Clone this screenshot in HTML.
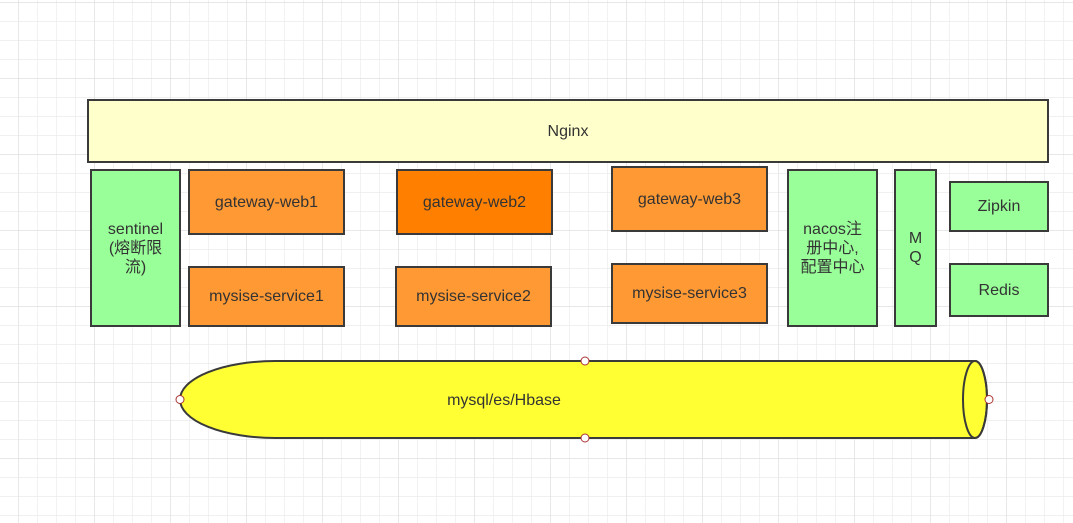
<!DOCTYPE html>
<html><head><meta charset="utf-8"><style>
body{margin:0;width:1073px;height:523px;overflow:hidden;background:#fff;font-family:"Liberation Sans","Noto Sans CJK SC",sans-serif}
.b{position:absolute;box-sizing:border-box;border:2px solid #3a3a3a;display:flex;align-items:center;justify-content:center;text-align:center;font-size:16px;color:#333;line-height:19px}
.o{background:#ff9933}.g{background:#99ff99}
</style></head><body>
<svg width="1073" height="523" style="position:absolute;left:0;top:0">
<defs>
<pattern id="m" x="18" y="2" width="19" height="19" patternUnits="userSpaceOnUse"><path d="M0 0H19M0 0V19" stroke="#e8e8e8" stroke-width="1.2" fill="none"/></pattern>
<pattern id="M" x="18" y="2" width="76" height="76" patternUnits="userSpaceOnUse"><path d="M0 0H76M0 0V76" stroke="#dcdcdc" stroke-width="1.2" fill="none"/></pattern>
</defs>
<rect width="1073" height="523" fill="url(#m)"/>
<rect width="1073" height="523" fill="url(#M)"/>
<path d="M275 361 L975 361 A12 38.5 0 0 1 975 438 L275 438 A95 38.5 0 0 1 275 361 Z" fill="#ffff33" stroke="#3a3a3a" stroke-width="2"/>
<ellipse cx="975" cy="399.5" rx="12" ry="38.5" fill="none" stroke="#3a3a3a" stroke-width="2"/>
<text x="504" y="405" font-size="16" fill="#333" text-anchor="middle" font-family="Liberation Sans, sans-serif">mysql/es/Hbase</text>
<g fill="#fff" stroke="#a33" stroke-width="1">
<circle cx="180" cy="399.5" r="4"/><circle cx="989" cy="399.5" r="4"/><circle cx="585" cy="361" r="4"/><circle cx="585" cy="438" r="4"/></g>
</svg>
<div class="b" style="left:87px;top:99px;width:962px;height:64px;background:#ffffcc">Nginx</div>
<div class="b g" style="left:90px;top:169px;width:91px;height:158px">sentinel<br>(熔断限<br>流)</div>
<div class="b o" style="left:188px;top:169px;width:157px;height:66px">gateway-web1</div>
<div class="b o" style="left:188px;top:266px;width:157px;height:61px">mysise-service1</div>
<div class="b" style="left:396px;top:169px;width:157px;height:66px;background:#ff8000">gateway-web2</div>
<div class="b o" style="left:395px;top:266px;width:157px;height:61px">mysise-service2</div>
<div class="b o" style="left:611px;top:166px;width:157px;height:66px">gateway-web3</div>
<div class="b o" style="left:611px;top:263px;width:157px;height:61px">mysise-service3</div>
<div class="b g" style="left:787px;top:169px;width:91px;height:158px">nacos注<br>册中心,<br>配置中心</div>
<div class="b g" style="left:894px;top:169px;width:43px;height:158px">M<br>Q</div>
<div class="b g" style="left:949px;top:181px;width:100px;height:51px">Zipkin</div>
<div class="b g" style="left:949px;top:263px;width:100px;height:54px">Redis</div>
</body></html>
